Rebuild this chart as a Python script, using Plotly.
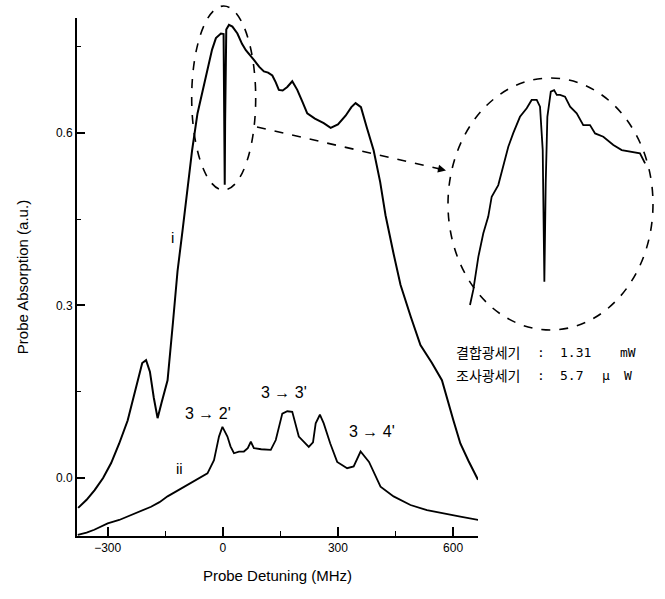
import plotly.graph_objects as go

# ---- data ----
curve_i_x = [-377, -355, -334, -312, -291, -270, -248, -222, -210, -200, -190, -180, -170,
             -160, -144, -130, -118, -105, -92, -80, -66, -52, -40, -28, -18, -5, 2, 4, 5, 6, 9,
             16, 25, 38, 50, 60, 70, 81, 95, 107, 118, 129, 138, 146, 156, 168, 181, 194,
             207, 220, 240, 263, 281, 300, 320, 335, 346, 360, 375, 393, 410, 424, 445,
             463, 490, 515, 545, 571, 601, 619, 640, 665]
curve_i_y = [-0.052, -0.038, -0.021, 0.0, 0.026, 0.06, 0.10, 0.17, 0.20, 0.205, 0.185, 0.14, 0.104,
             0.13, 0.17, 0.27, 0.36, 0.43, 0.50, 0.57, 0.634, 0.675, 0.71, 0.745, 0.765, 0.773, 0.772, 0.62, 0.51, 0.62, 0.78,
             0.788, 0.785, 0.773, 0.755, 0.744, 0.735, 0.727, 0.715, 0.707, 0.705, 0.70, 0.688, 0.675, 0.674, 0.68, 0.69, 0.675,
             0.655, 0.634, 0.625, 0.617, 0.609, 0.615, 0.63, 0.645, 0.652, 0.645, 0.61, 0.57, 0.515, 0.457, 0.39,
             0.336, 0.28, 0.231, 0.2, 0.17, 0.10, 0.06, 0.03, -0.003]

curve_ii_x = [-378, -355, -335, -300, -270, -248, -220, -187, -165, -144, -118, -92, -65, -40,
              -23, -10, -1, 5, 12, 20, 29, 42, 55, 65, 73, 81, 100, 125, 138, 155, 168, 181,
              198, 224, 235, 242, 253, 263, 280, 298, 324, 341, 359, 381, 411, 445, 489,
              532, 575, 619, 666]
curve_ii_y = [-0.099, -0.095, -0.090, -0.079, -0.073, -0.067, -0.060, -0.050, -0.042, -0.032, -0.022, -0.012, -0.002, 0.008,
              0.031, 0.072, 0.089, 0.082, 0.072, 0.055, 0.043, 0.046, 0.046, 0.052, 0.063, 0.052, 0.050, 0.049, 0.066, 0.112, 0.116, 0.115,
              0.072, 0.054, 0.062, 0.095, 0.110, 0.095, 0.060, 0.028, 0.017, 0.020, 0.046, 0.028, -0.015, -0.032, -0.047,
              -0.056, -0.061, -0.067, -0.073]

inset_x = [-50.3, -48.1, -44.7, -41.4, -38.1, -35.8, -31.4, -24.7, -21.4, -16.9, -12.4, -9.1, -5.7,
           -3.5, -1.7, -0.6, 0.3, 1.4, 3.7, 5.9, 7.7, 9.9, 13.2, 16.6, 21.0, 25.4, 29.9, 33.3,
           38.8, 45.5, 51.1, 56.7, 63.3, 66.7]
inset_y = [0.099, 0.159, 0.291, 0.384, 0.450, 0.529, 0.575, 0.727, 0.781, 0.846, 0.880, 0.913, 0.913,
           0.886, 0.714, 0.192, 0.582, 0.846, 0.946, 0.952, 0.933, 0.933, 0.926, 0.886, 0.860, 0.813, 0.813, 0.780,
           0.767, 0.734, 0.714, 0.708, 0.701, 0.661]

x_ticks = [-300, 0, 300, 600]
y_ticks = [0.0, 0.3, 0.6]
y_tick_labels = ["0.0", "0.3", "0.6"]
peak_labels = ["3 \u2192 2'", "3 \u2192 3'", "3 \u2192 4'"]
peak_label_x = [-39, 159, 389]
peak_label_y = [0.113, 0.148, 0.080]
info_names = ["결합광세기", "조사광세기"]
info_values = [["1.31", "mW"], ["5.7", "μ", "W"]]

FONT = "Liberation Sans, Arial, sans-serif"

# ---- layout geometry (pixels -> paper) ----
W, H = 665, 599
ML, MR, MT, MB = 77, 10, 18, 63
PW, PH = W - ML - MR, H - MT - MB


def px(x):
    return (x - ML) / PW


def py(y):
    return (H - MB - y) / PH


fig = go.Figure()
fig.add_trace(go.Scatter(x=curve_i_x, y=curve_i_y, mode="lines",
                         line=dict(color="black", width=2), showlegend=False,
                         hoverinfo="skip"))
fig.add_trace(go.Scatter(x=curve_ii_x, y=curve_ii_y, mode="lines",
                         line=dict(color="black", width=1.8), showlegend=False,
                         hoverinfo="skip"))
fig.add_trace(go.Scatter(x=inset_x, y=inset_y, mode="lines", xaxis="x2", yaxis="y2",
                         line=dict(color="black", width=1.8), showlegend=False,
                         hoverinfo="skip"))

fig.update_layout(
    width=W, height=H,
    margin=dict(l=ML, r=MR, t=MT, b=MB),
    paper_bgcolor="white", plot_bgcolor="white",
    font=dict(family=FONT, color="black", size=12),
    xaxis=dict(domain=[0, px(478)], range=[-380, 665], tickmode="array", tickvals=x_ticks,
               ticks="inside", ticklen=9, tickwidth=1.5, tickcolor="black",
               showline=True, linecolor="black", linewidth=2, showgrid=False, zeroline=False,
               minor=dict(ticks="inside", ticklen=5, tickwidth=1.2, tickcolor="black", dtick=150, tick0=0),
               tickfont=dict(size=12, family=FONT),
               title=dict(text="Probe Detuning (MHz)", font=dict(size=15, family=FONT), standoff=16)),
    yaxis=dict(domain=[0, 1], range=[-0.1009, 0.80], tickmode="array", tickvals=y_ticks,
               ticktext=y_tick_labels,
               ticks="inside", ticklen=8, tickwidth=1.5, tickcolor="black",
               showline=True, linecolor="black", linewidth=2, showgrid=False, zeroline=False,
               minor=dict(ticks="inside", ticklen=4, tickwidth=1.2, tickcolor="black", dtick=0.15, tick0=0),
               tickfont=dict(size=12, family=FONT),
               title=dict(text="Probe Absorption (a.u.)", font=dict(size=15, family=FONT), standoff=24)),
    xaxis2=dict(domain=[px(448), px(653)], range=[-65, 72], anchor="y2", visible=False),
    yaxis2=dict(domain=[py(330), py(78)], range=[0, 1], anchor="x2", visible=False),
)

shapes = [
    # dashed ellipse around the dip in the main plot
    dict(type="circle", xref="paper", yref="paper", x0=px(191.7), x1=px(255.7),
         y0=py(190), y1=py(6), line=dict(color="black", width=1.6, dash="dash")),
    # dashed ellipse around the inset
    dict(type="circle", xref="paper", yref="paper", x0=px(448), x1=px(653),
         y0=py(330), y1=py(78), line=dict(color="black", width=1.6, dash="dash")),
    # dashed connector
    dict(type="line", xref="paper", yref="paper", x0=px(257), y0=py(127), x1=px(440), y1=py(169),
         line=dict(color="black", width=1.6, dash="dash")),
]
fig.update_layout(shapes=shapes)

ann = []
# arrow head at end of connector
ann.append(dict(xref="paper", yref="paper", x=px(446), y=py(170.5), ax=-10, ay=-2.3,
                axref="pixel", ayref="pixel", showarrow=True, arrowhead=2, arrowsize=1,
                arrowwidth=1.6, arrowcolor="black", text=""))
ann.append(dict(x=-130, y=0.419, xref="x", yref="y", text="i", showarrow=False,
                font=dict(size=15, family=FONT)))
ann.append(dict(x=-114, y=0.017, xref="x", yref="y", text="ii", showarrow=False,
                font=dict(size=15, family=FONT)))
for t, xx, yy in zip(peak_labels, peak_label_x, peak_label_y):
    ann.append(dict(x=xx, y=yy, xref="x", yref="y", text=t, showarrow=False,
                    font=dict(size=16, family=FONT)))

KFONT = dict(size=14, family="Noto Sans CJK KR")
VFONT = dict(size=13, family="DejaVu Sans Mono, monospace")
value_x = [[558, 618], [558, 600, 622]]
for i, name in enumerate(info_names):
    yy = py(352 + 23 * i)
    ann.append(dict(x=px(454), y=yy, xref="paper", yref="paper", text=name, showarrow=False,
                    xanchor="left", yanchor="middle", font=KFONT))
    ann.append(dict(x=px(541), y=yy, xref="paper", yref="paper", text=":", showarrow=False,
                    xanchor="center", yanchor="middle", font=VFONT))
    for v, vx in zip(info_values[i], value_x[i]):
        ann.append(dict(x=px(vx), y=yy, xref="paper", yref="paper", text=v, showarrow=False,
                        xanchor="left", yanchor="middle", font=VFONT))
fig.update_layout(annotations=ann)

fig.write_html("out.html")
